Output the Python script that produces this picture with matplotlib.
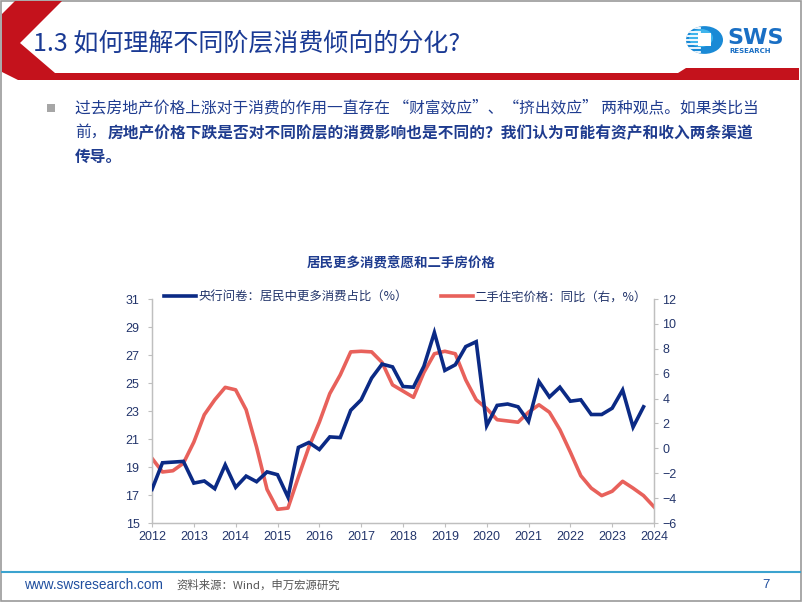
import numpy as np
import matplotlib
matplotlib.use("Agg")
import matplotlib.pyplot as plt
from matplotlib.patches import Polygon, Rectangle, Circle
from matplotlib.lines import Line2D

plt.rcParams['font.family'] = ['Noto Sans CJK SC', 'DejaVu Sans']

# data (quarterly)
blue_start = 2012.0
blue_vals = [17.4, 19.3, 19.35, 19.4, 17.85, 18.0, 17.45, 19.15,
             17.55, 18.35, 17.95, 18.65, 18.45, 16.85, 20.4, 20.75,
             20.25, 21.15, 21.1, 23.05, 23.8, 25.35, 26.35, 26.15,
             24.75, 24.7, 26.2, 28.6, 25.9, 26.3, 27.6, 27.95,
             21.95, 23.4, 23.5, 23.3, 22.25, 25.1, 24.0, 24.7,
             23.7, 23.8, 22.75, 22.75, 23.2, 24.5, 21.85, 23.3]
red_start = 2012.0
red_vals = [-0.8, -1.9, -1.8, -1.2, 0.5, 2.7, 3.9, 4.9,
            4.7, 3.1, 0.1, -3.3, -4.9, -4.8, -2.3, 0.1,
            2.1, 4.4, 5.9, 7.75, 7.8, 7.75, 6.9, 5.1,
            4.6, 4.1, 6.1, 7.6, 7.8, 7.6, 5.5, 3.9,
            3.2, 2.3, 2.2, 2.1, 2.9, 3.5, 2.9, 1.5,
            -0.3, -2.2, -3.2, -3.8, -3.45, -2.65, -3.2, -3.8, -4.7]
years = list(range(2012, 2025))
left_ticks = [15, 17, 19, 21, 23, 25, 27, 29, 31]
right_ticks = [-6, -4, -2, 0, 2, 4, 6, 8, 10, 12]

blue_label = '央行问卷：居民中更多消费占比（%）'
red_label = '二手住宅价格：同比（右，%）'

W, H = 802, 602
NAVY = '#0b2a85'
RED = '#e8615b'
TXT = '#1f3c8f'
TICK = '#23356b'


def fx(x):
    return x / W


def fy(y):
    return 1 - y / H


fig = plt.figure(figsize=(8.02, 6.02), dpi=100)
fig.patch.set_facecolor('white')

# frame around the slide
fig.add_artist(Rectangle((0.001, 0.001), 0.998, 0.997, transform=fig.transFigure,
                         fill=False, edgecolor='#9a9a9a', lw=1.2))

# header red chevron and band
chev = [(15, 1), (62, 1), (20, 43), (55, 73), (678, 73), (686, 68), (799, 68),
        (799, 80), (18, 80), (2, 72), (2, 14)]
fig.add_artist(Polygon([(fx(x), fy(y)) for x, y in chev], closed=True,
                       transform=fig.transFigure, facecolor='#c4121c', edgecolor='none'))

fig.text(fx(33), fy(44), '1.3 如何理解不同阶层消费倾向的分化?', fontsize=18,
         color='#1a3a94', va='center', ha='left', fontweight='medium')

# logo
logo = Circle((fx(704.5), fy(40)), 18.5 / W, transform=fig.transFigure,
              facecolor='#1a8ad6', edgecolor='none')
fig.add_artist(logo)
inner = Circle((fx(701), fy(38)), 12 / W, transform=fig.transFigure,
               facecolor='#3fb4ec', edgecolor='none')
fig.add_artist(inner)
for yy in [28, 32, 36, 40, 44, 48, 52]:
    ln = Line2D([fx(684), fx(700)], [fy(yy), fy(yy)], transform=fig.transFigure,
                color='white', lw=1.3)
    fig.add_artist(ln)
    ln.set_clip_path(logo)
fig.add_artist(Rectangle((fx(698), fy(46)), 13 / W, 13 / H, transform=fig.transFigure,
                         facecolor='white', edgecolor='none'))
fig.text(fx(727), fy(38.5), 'SWS', fontsize=16, fontweight='bold', color='#1a6fc4',
         family='DejaVu Sans', va='center', ha='left')
fig.text(fx(729), fy(51), 'RESEARCH', fontsize=5, fontweight='bold', color='#1a6fc4',
         family='DejaVu Sans', va='center', ha='left')

# bullet text
fig.add_artist(Rectangle((fx(47), fy(112)), 8 / W, 8 / H, transform=fig.transFigure,
                         facecolor='#a6a6a6', edgecolor='none'))
fig.text(fx(75), fy(108), '过去房地产价格上涨对于消费的作用一直存在 “财富效应”、“挤出效应” 两种观点。如果类比当',
         fontsize=11.3, color=TXT, va='center', ha='left')
fig.text(fx(75), fy(132.5), '前，', fontsize=11.3, color=TXT, va='center', ha='left')
fig.text(fx(108), fy(132.5), '房地产价格下跌是否对不同阶层的消费影响也是不同的？我们认为可能有资产和收入两条渠道',
         fontsize=11.3, color=TXT, va='center', ha='left', fontweight='bold')
fig.text(fx(75), fy(157), '传导。', fontsize=11.3, color=TXT, va='center', ha='left', fontweight='bold')

# chart title
fig.text(fx(401), fy(263), '居民更多消费意愿和二手房价格', fontsize=9.7, color=TXT,
         ha='center', va='center', fontweight='bold')

# axes
ax = fig.add_axes([fx(152), fy(523), (654 - 152) / W, (523 - 299) / H])
ax2 = ax.twinx()

bx = blue_start + 0.25 * np.arange(len(blue_vals))
rx = red_start + 0.25 * np.arange(len(red_vals))
ax2.plot(rx, red_vals, color=RED, lw=2.6, solid_joinstyle='round', zorder=2)
ax.plot(bx, blue_vals, color=NAVY, lw=2.6, solid_joinstyle='miter', zorder=3)
ax.set_zorder(ax2.get_zorder() + 1)
ax.patch.set_visible(False)

ax.set_xlim(2012, 2024)
ax.set_ylim(15, 31)
ax2.set_ylim(-6, 12)
ax.set_xticks(years)
ax.set_xticklabels([str(y) for y in years])
ax.set_yticks(left_ticks)
ax2.set_yticks(right_ticks)

for a in (ax, ax2):
    for s in a.spines.values():
        s.set_color('#bfbfbf')
        s.set_linewidth(0.9)
    a.spines['top'].set_visible(False)
    a.tick_params(colors='#bfbfbf', labelcolor=TICK, labelsize=9, length=3, width=0.8)
    for lab in a.get_xticklabels() + a.get_yticklabels():
        lab.set_family(['Liberation Sans', 'DejaVu Sans'])
ax.tick_params(axis='y', pad=6)
ax2.tick_params(axis='y', pad=3)
ax.tick_params(axis='x', pad=3)

handles = [Line2D([], [], color=NAVY, lw=2.6), Line2D([], [], color=RED, lw=2.6)]
ax.legend(handles, [blue_label, red_label], ncol=2, frameon=False, fontsize=8.9,
          loc='center', bbox_to_anchor=(0.505, 1.01), handlelength=2.6, handletextpad=0.15,
          columnspacing=2.7, labelcolor=TICK, borderpad=0, borderaxespad=0)

# footer
fig.add_artist(Line2D([0.002, 0.998], [fy(572), fy(572)], transform=fig.transFigure,
                      color='#3ba3cf', lw=1.5))
fig.text(fx(24), fy(585), 'www.swsresearch.com', fontsize=9.8, color='#1f4e9e',
         family=['Liberation Sans', 'DejaVu Sans'], va='center', ha='left')
fig.text(fx(176), fy(585), '资料来源：Wind，申万宏源研究', fontsize=8.2, color='#555555',
         va='center', ha='left')
fig.text(fx(762), fy(585), '7', fontsize=9.5, color='#1f4e9e',
         family=['Liberation Sans', 'DejaVu Sans'], va='center', ha='left')

fig.savefig('out.png', dpi=100)
